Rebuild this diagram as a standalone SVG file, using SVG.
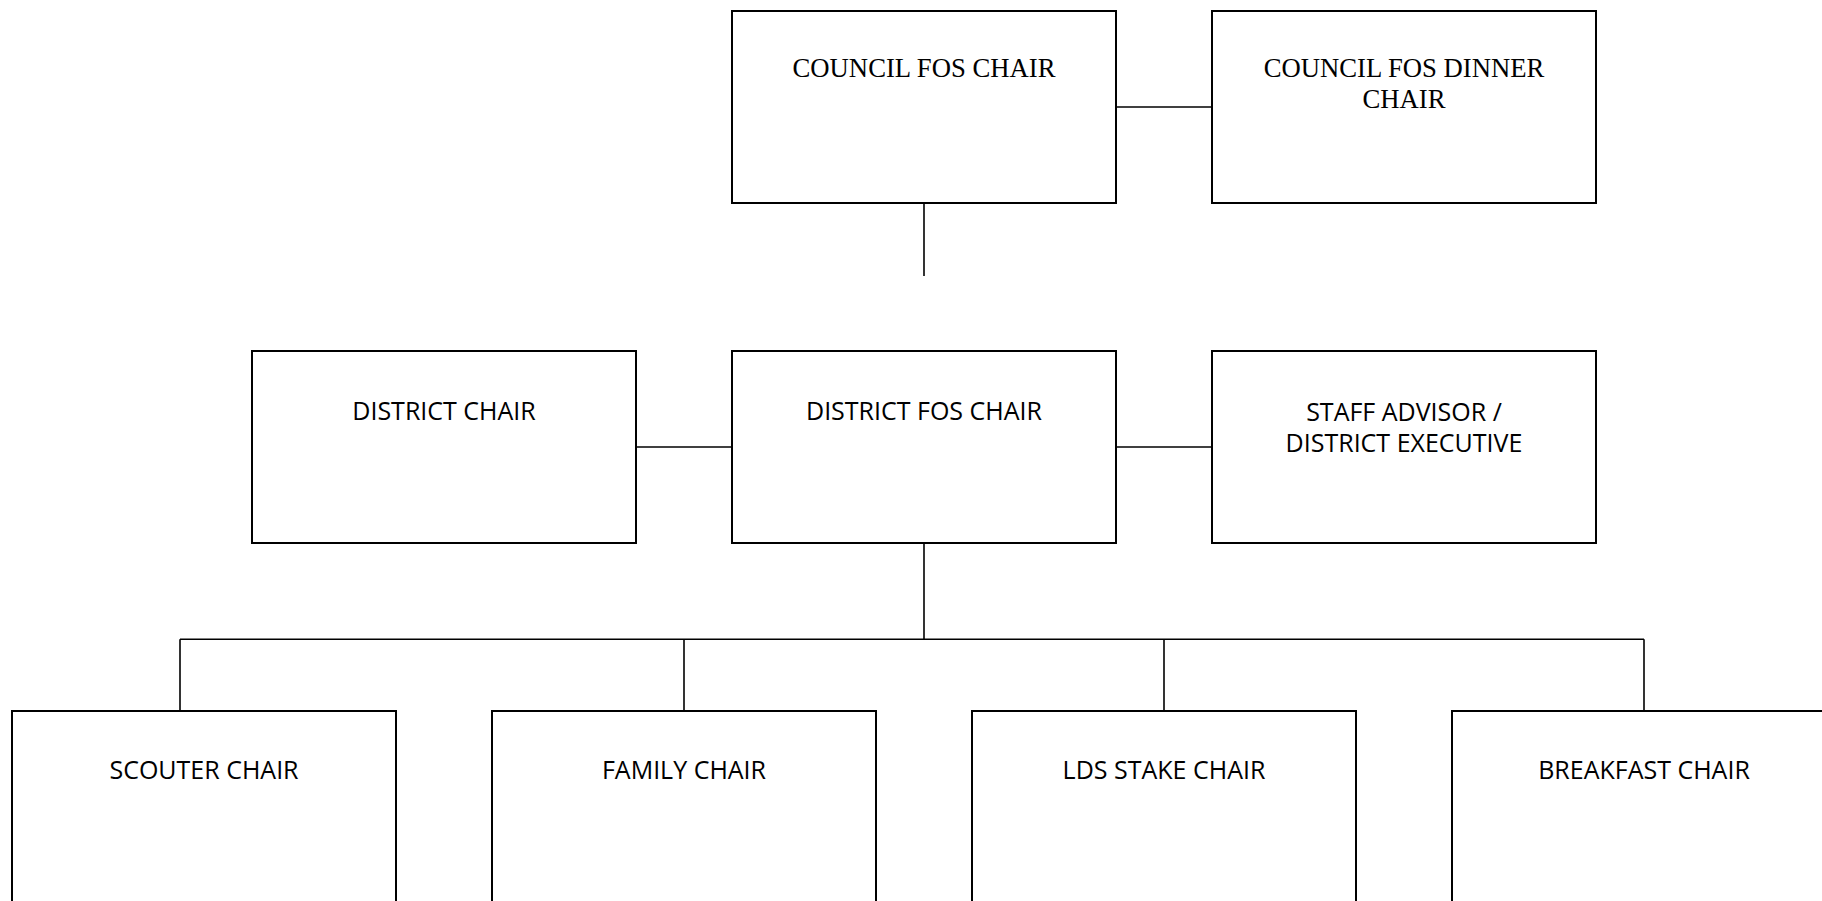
<svg xmlns="http://www.w3.org/2000/svg" width="1822" height="901" viewBox="0 0 1822 901">
<style>
.box{fill:#fff;stroke:#000;stroke-width:2}
.ln{fill:none;stroke:#000;stroke-width:1.6}
.serif{font-family:"Liberation Serif","Times New Roman",serif;font-size:26.7px;fill:#000;text-anchor:middle}
.sans{font-family:"Open Sans","Noto Sans",sans-serif;font-size:25px;fill:#000;text-anchor:middle}
</style>
<rect width="1822" height="901" fill="#fff"/>
<g id="connectors">
<line class="ln" x1="1116" y1="107" x2="1212" y2="107"/>
<line class="ln" x1="924" y1="203" x2="924" y2="276"/>
<line class="ln" x1="636" y1="447" x2="732" y2="447"/>
<line class="ln" x1="1116" y1="447" x2="1212" y2="447"/>
<line class="ln" x1="924" y1="543" x2="924" y2="639.3"/>
<line class="ln" x1="180" y1="639.3" x2="1644" y2="639.3"/>
<line class="ln" x1="180" y1="639.3" x2="180" y2="711"/>
<line class="ln" x1="684" y1="639.3" x2="684" y2="711"/>
<line class="ln" x1="1164" y1="639.3" x2="1164" y2="711"/>
<line class="ln" x1="1644" y1="639.3" x2="1644" y2="711"/>
</g>
<g id="council-fos-chair">
<rect class="box" x="732" y="11" width="384" height="192"/>
<text class="serif" x="924" y="77">COUNCIL FOS CHAIR</text>
</g>
<g id="council-fos-dinner-chair">
<rect class="box" x="1212" y="11" width="384" height="192"/>
<text class="serif" x="1404" y="77.3">COUNCIL FOS DINNER</text>
<text class="serif" x="1404" y="107.7">CHAIR</text>
</g>
<g id="district-chair">
<rect class="box" x="252" y="351" width="384" height="192"/>
<text class="sans" x="444" y="420">DISTRICT CHAIR</text>
</g>
<g id="district-fos-chair">
<rect class="box" x="732" y="351" width="384" height="192"/>
<text class="sans" x="924" y="420">DISTRICT FOS CHAIR</text>
</g>
<g id="staff-advisor">
<rect class="box" x="1212" y="351" width="384" height="192"/>
<text class="sans" x="1404" y="421">STAFF ADVISOR /</text>
<text class="sans" x="1404" y="451.7">DISTRICT EXECUTIVE</text>
</g>
<g id="scouter-chair">
<rect class="box" x="12" y="711" width="384" height="200"/>
<text class="sans" x="204" y="779.3">SCOUTER CHAIR</text>
</g>
<g id="family-chair">
<rect class="box" x="492" y="711" width="384" height="200"/>
<text class="sans" x="684" y="779.3">FAMILY CHAIR</text>
</g>
<g id="lds-stake-chair">
<rect class="box" x="972" y="711" width="384" height="200"/>
<text class="sans" x="1164" y="779.3">LDS STAKE CHAIR</text>
</g>
<g id="breakfast-chair">
<rect class="box" x="1452" y="711" width="384" height="200"/>
<text class="sans" x="1644" y="779.3">BREAKFAST CHAIR</text>
</g>
</svg>
